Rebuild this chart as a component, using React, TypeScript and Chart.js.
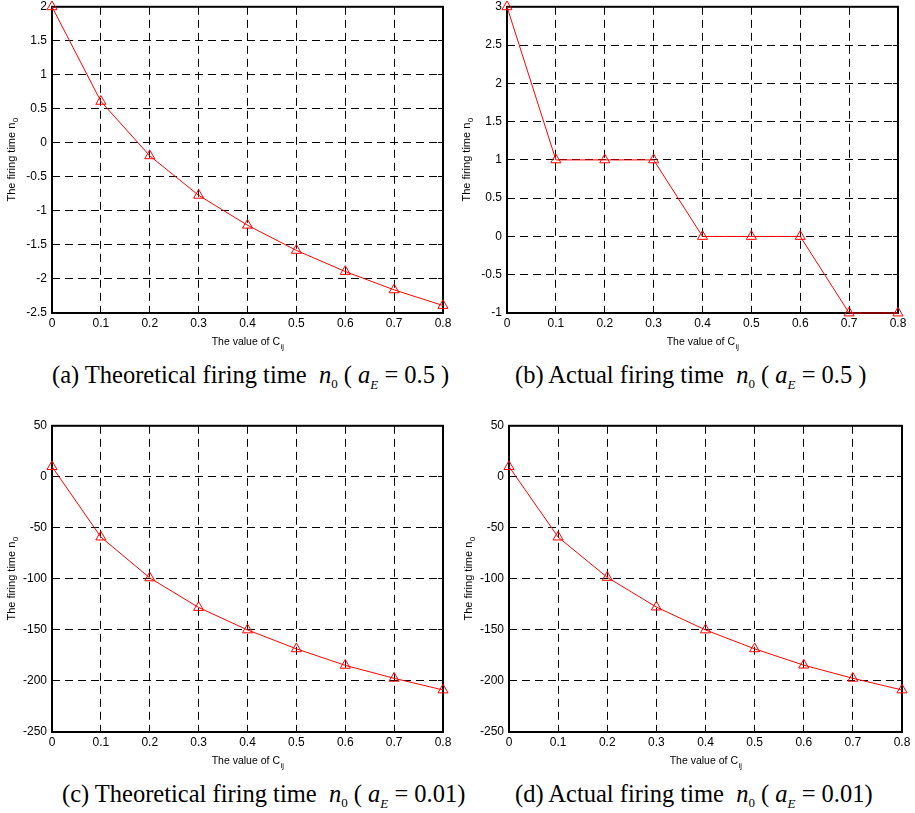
import React, { useEffect, useRef } from "react";
import { Chart, registerables } from "chart.js";

Chart.register(...registerables);

// ---------- data ----------
const cValues = [0, 0.1, 0.2, 0.3, 0.4, 0.5, 0.6, 0.7, 0.8];
const xTickValues = [0, 0.1, 0.2, 0.3, 0.4, 0.5, 0.6, 0.7, 0.8];

const theoreticalHalf = [2, 0.61, -0.19, -0.77, -1.21, -1.58, -1.89, -2.16, -2.39];
const actualHalf = [3, 1, 1, 1, 0, 0, 0, -1, -1];
const theoreticalSmall = [10, -59, -99, -128, -150, -168.5, -184.7, -197.4, -208.8];
const actualSmall = [10, -59, -98.5, -127.6, -150, -168.5, -184.5, -197.4, -208.8];

const yTicksA = [-2.5, -2, -1.5, -1, -0.5, 0, 0.5, 1, 1.5, 2];
const yTicksB = [-1, -0.5, 0, 0.5, 1, 1.5, 2, 2.5, 3];
const yTicksC = [-250, -200, -150, -100, -50, 0, 50];

const captionLabels = [
  "(a) Theoretical firing time",
  "(b) Actual firing time",
  "(c) Theoretical firing time",
  "(d) Actual firing time",
];
const captionAE = ["0.5", "0.5", "0.01", "0.01"];
const captionClose = ["\u00a0)", "\u00a0)", ")", ")"];

const yTitleMain = "The firing time n";
const yTitleSub = "0";
const xTitleMain = "The value of C";
const xTitleSub = "ij";

// ---------- layout ----------
const panels = [
  { left: 0, top: 0, width: 455, padRight: 12, values: theoreticalHalf, yTicks: yTicksA, capLeft: 52, capTop: 363 },
  { left: 455, top: 0, width: 455, padRight: 12, values: actualHalf, yTicks: yTicksB, capLeft: 515, capTop: 363 },
  { left: 0, top: 419, width: 455, padRight: 12, values: theoreticalSmall, yTicks: yTicksC, capLeft: 62, capTop: 782 },
  { left: 457, top: 419, width: 458, padRight: 13, values: actualSmall, yTicks: yTicksC, capLeft: 515, capTop: 782 },
];

const CANVAS_H = 353;
const FONT = "'Liberation Sans', Arial, Helvetica, sans-serif";

const matlabPlugin = {
  id: "matlabBox",
  beforeDatasetsDraw(chart: any) {
    const { ctx, chartArea: a, scales } = chart;
    const yTicks: number[] = chart.options.plugins.matlabBox.yTicks;
    ctx.save();
    ctx.strokeStyle = "#000";
    ctx.lineWidth = 1;
    ctx.setLineDash([]);
    ctx.beginPath();
    for (const v of xTickValues) {
      const px = Math.round(scales.x.getPixelForValue(v) - 0.5) + 0.5;
      ctx.moveTo(px, a.bottom);
      ctx.lineTo(px, a.bottom - 5);
      ctx.moveTo(px, a.top);
      ctx.lineTo(px, a.top + 5);
    }
    for (const v of yTicks) {
      const py = Math.round(scales.y.getPixelForValue(v) - 0.5) + 0.5;
      ctx.moveTo(a.left, py);
      ctx.lineTo(a.left + 5, py);
      ctx.moveTo(a.right, py);
      ctx.lineTo(a.right - 5, py);
    }
    ctx.stroke();
    ctx.lineWidth = 2;
    ctx.strokeRect(a.left, a.top, a.right - a.left, a.bottom - a.top);
    ctx.restore();
  },
  afterDraw(chart: any) {
    const { ctx, chartArea: a } = chart;
    ctx.save();
    ctx.fillStyle = "#000";
    ctx.textBaseline = "alphabetic";
    ctx.textAlign = "left";
    // x title
    ctx.font = `10.5px ${FONT}`;
    const w1 = ctx.measureText(xTitleMain).width;
    ctx.font = `7.5px ${FONT}`;
    const w2 = ctx.measureText(xTitleSub).width;
    const cx = (a.left + a.right) / 2;
    const sx = cx - (w1 + w2) / 2;
    const by = a.bottom + 32;
    ctx.font = `10.5px ${FONT}`;
    ctx.fillText(xTitleMain, sx, by);
    ctx.font = `7.5px ${FONT}`;
    ctx.fillText(xTitleSub, sx + w1 + 0.5, by + 3.5);
    // y title
    const cy = (a.top + a.bottom) / 2;
    ctx.translate(15, cy);
    ctx.rotate(-Math.PI / 2);
    ctx.font = `11px ${FONT}`;
    const v1 = ctx.measureText(yTitleMain).width;
    ctx.font = `8px ${FONT}`;
    const v2 = ctx.measureText(yTitleSub).width;
    const s0 = -(v1 + v2) / 2;
    ctx.font = `11px ${FONT}`;
    ctx.fillText(yTitleMain, s0, 0);
    ctx.font = `8px ${FONT}`;
    ctx.fillText(yTitleSub, s0 + v1 + 0.5, 3);
    ctx.restore();
  },
};

function PanelChart({ p }: { p: any }) {
  const ref = useRef<HTMLCanvasElement>(null);
  useEffect(() => {
    const canvas = ref.current;
    if (!canvas) return;
    const tickFont = { family: FONT, size: 12 };
    const chart = new Chart(canvas, {
      type: "line",
      data: {
        datasets: [
          {
            data: cValues.map((x, i) => ({ x, y: p.values[i] })),
            borderColor: "#ff0000",
            borderWidth: 1,
            pointStyle: "triangle",
            pointRadius: 5.8,
            pointBorderColor: "#ff0000",
            pointBackgroundColor: "rgba(0,0,0,0)",
            pointBorderWidth: 1,
            tension: 0,
            fill: false,
            clip: false,
          } as any,
        ],
      },
      options: {
        responsive: false,
        animation: false,
        devicePixelRatio: 1,
        events: [],
        layout: { padding: { top: 5, right: p.padRight, bottom: 0, left: 0 } },
        plugins: {
          legend: { display: false },
          tooltip: { enabled: false },
          matlabBox: { yTicks: p.yTicks },
        } as any,
        scales: {
          x: {
            type: "linear",
            min: 0,
            max: 0.8,
            afterBuildTicks: (s: any) => {
              s.ticks = xTickValues.map((v) => ({ value: v }));
            },
            afterFit: (s: any) => {
              s.height = 40;
              s.paddingLeft = 0;
              s.paddingRight = 0;
            },
            ticks: {
              autoSkip: false,
              maxRotation: 0,
              padding: 3,
              color: "#000",
              font: tickFont,
              callback: (v: any) => String(v),
            },
            grid: { color: "#000", lineWidth: 1, drawTicks: false },
            border: { display: false, dash: [8, 5] },
          },
          y: {
            type: "linear",
            min: p.yTicks[0],
            max: p.yTicks[p.yTicks.length - 1],
            afterBuildTicks: (s: any) => {
              s.ticks = p.yTicks.map((v: number) => ({ value: v }));
            },
            afterFit: (s: any) => {
              s.width = 52;
              s.paddingTop = 0;
              s.paddingBottom = 0;
            },
            ticks: {
              autoSkip: false,
              padding: 5,
              color: "#000",
              font: tickFont,
              callback: (v: any) => String(v),
            },
            grid: { color: "#000", lineWidth: 1, drawTicks: false },
            border: { display: false, dash: [8, 5] },
          },
        } as any,
      },
      plugins: [matlabPlugin as any],
    });
    return () => chart.destroy();
  }, [p]);
  return (
    <canvas
      ref={ref}
      width={p.width}
      height={CANVAS_H}
      style={{ position: "absolute", left: p.left, top: p.top, width: p.width, height: CANVAS_H }}
    />
  );
}

const subStyle: React.CSSProperties = { fontSize: 13, position: "relative", top: 5 };

export default function App() {
  return (
    <div style={{ position: "fixed", left: 0, top: 0, width: 915, height: 813, background: "#fff", overflow: "hidden" }}>
      {panels.map((p, i) => (
        <PanelChart key={i} p={p} />
      ))}
      {panels.map((p, i) => (
        <div
          key={"c" + i}
          style={{
            position: "absolute",
            left: p.capLeft,
            top: p.capTop,
            fontFamily: "'Liberation Serif', 'Times New Roman', serif",
            fontSize: 24.5,
            lineHeight: "24px",
            whiteSpace: "pre",
            color: "#000",
          }}
        >
          {captionLabels[i]}
          {"\u00a0\u00a0"}
          <i>n</i>
          <span style={subStyle}>0</span>
          {"\u00a0(\u00a0"}
          <i>a</i>
          <span style={{ ...subStyle, fontStyle: "italic", top: 6 }}>E</span>
          {"\u00a0=\u00a0"}
          {captionAE[i]}
          {captionClose[i]}
        </div>
      ))}
    </div>
  );
}
